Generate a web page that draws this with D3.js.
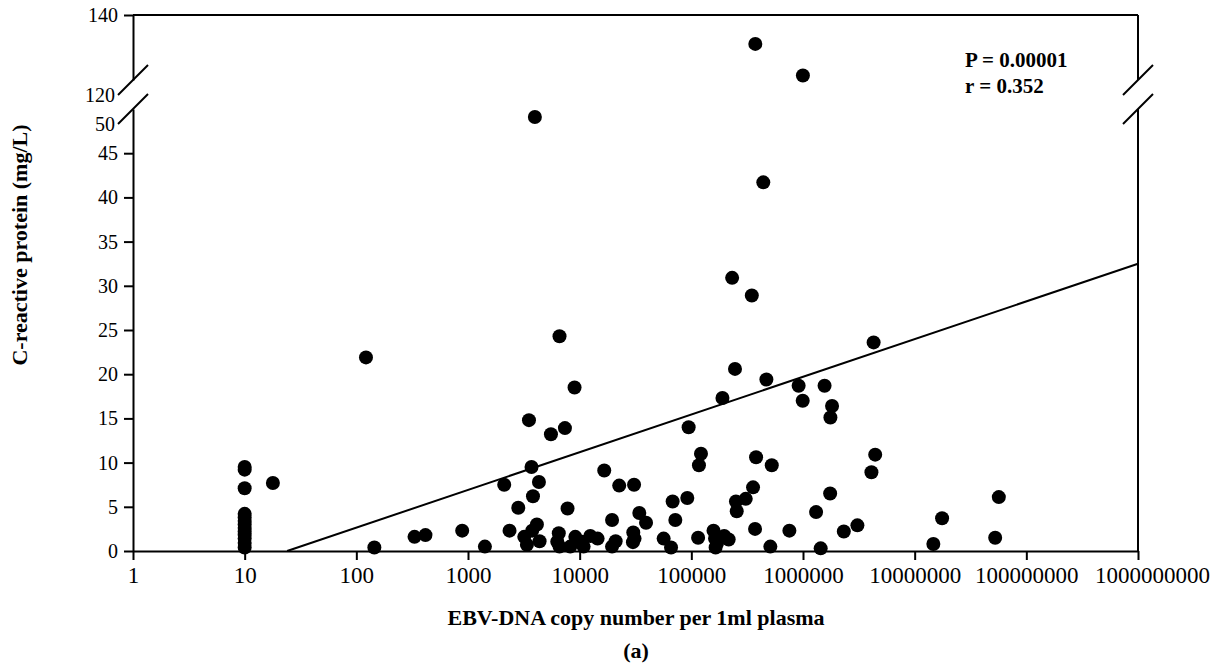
<!DOCTYPE html>
<html>
<head>
<meta charset="utf-8">
<script src="https://cdn.jsdelivr.net/npm/d3@7"></script>
<style>
  body { margin: 0; background: #fff; }
  svg { display: block; font-family: "Liberation Serif", "Times New Roman", serif; }
</style>
</head>
<body>
<svg id="chart" width="1214" height="664"></svg>
<script>
// EBV-DNA copies per 1 ml plasma (x) and CRP in mg/L (y)
const copyNumber = [
  10, 10, 10, 10, 10, 10, 10, 10, 10, 10, 10, 10, 10,
  17.9, 122, 145, 332, 416, 887, 1417,
  2110, 2355, 2820, 3515, 3706, 4318, 3818, 4140, 3757, 3190, 3370, 4375, 3970,
  5530, 7380, 7790, 6600, 9000, 6500, 6300, 6600,
  9140, 8240, 10500, 10840, 12450, 14470,
  16600, 19500, 19500, 21000, 22600, 30700, 34200, 39300, 30200, 31000, 30000,
  56500, 65800, 68000, 71900, 92000, 94600,
  115000, 117000, 122000, 158000, 163000, 170000, 165000, 197000, 216000,
  190000, 232000, 246000, 251000, 255000, 307000, 348000, 357000, 372000, 380000,
  374000, 441000, 470000, 510000, 525000, 755000, 914000, 994000, 998000,
  1310000, 1440000, 1560000, 1750000, 1760000, 1820000, 2320000, 3070000,
  4100000, 4290000, 4430000,
  14700000, 17600000, 52600000, 56700000
];
const crp = [
  9.5, 9.2, 7.1, 4.2, 3.8, 3.4, 3.0, 2.6, 2.2, 1.8, 1.4, 0.9, 0.4,
  7.7, 21.9, 0.4, 1.6, 1.8, 2.3, 0.5,
  7.5, 2.3, 4.9, 14.8, 9.5, 7.8, 6.2, 3.0, 2.3, 1.6, 0.7, 1.1, 49.1,
  13.2, 13.9, 4.8, 24.3, 18.5, 2.0, 1.05, 0.5,
  1.6, 0.5, 1.05, 0.5, 1.7, 1.4,
  9.1, 3.5, 0.5, 1.1, 7.4, 7.5, 4.3, 3.2, 2.1, 1.4, 1.0,
  1.4, 0.4, 5.6, 3.5, 6.0, 14.0,
  1.5, 9.7, 11.0, 2.3, 1.4, 0.9, 0.4, 1.7, 1.3,
  17.3, 30.9, 20.6, 5.6, 4.5, 5.9, 28.9, 7.2, 2.5, 10.6,
  131.1, 41.7, 19.4, 0.5, 9.7, 2.3, 18.7, 17.0, 121.4,
  4.4, 0.3, 18.7, 6.5, 15.1, 16.4, 2.2, 2.9,
  8.9, 23.6, 10.9,
  0.8, 3.7, 1.5, 6.1
];

// regression line end points
const fitX = [24, 1e9];
const fitY = [0, 32.5];

const xTicks = [1, 10, 100, 1000, 10000, 100000, 1000000, 10000000, 100000000, 1000000000];
const lowTicks = [0, 5, 10, 15, 20, 25, 30, 35, 40, 45];
const lowDomain = [0, 50];
const highDomain = [120, 140];

const svg = d3.select("#chart");

const margin = { top: 15, left: 133, right: 76, bottom: 113 };
const width = 1214 - margin.left - margin.right;
const bottomY = 664 - margin.bottom;

const x = d3.scaleLog().domain([1, 1e9]).range([margin.left, margin.left + width]);
const yLow = d3.scaleLinear().domain(lowDomain).range([bottomY, 109]);
const yHigh = d3.scaleLinear().domain(highDomain).range([80, margin.top]);
const yOf = (v) => (v >= highDomain[0] ? yHigh(v) : yLow(v));

const styleAxis = (size) => (g) => {
  g.select(".domain").attr("stroke", "#000").attr("stroke-width", 2);
  g.selectAll(".tick line").attr("stroke", "#000").attr("stroke-width", 2);
  g.selectAll(".tick text")
    .attr("fill", "#000")
    .style("font-family", "Liberation Serif, serif")
    .style("font-size", size + "px");
};

// x axis
const xAxis = svg.append("g")
  .attr("transform", `translate(0,${bottomY})`)
  .call(d3.axisBottom(x).tickValues(xTicks).tickFormat(d3.format("d")).tickSize(9).tickPadding(7).tickSizeOuter(0))
  .call(styleAxis(23));
// last label is pushed right so it does not run into its neighbour
xAxis.selectAll(".tick text").filter((d) => d === 1e9).attr("dx", 14);

// lower y axis
svg.append("g")
  .attr("transform", `translate(${margin.left},0)`)
  .call(d3.axisLeft(yLow).tickValues(lowTicks).tickSize(9).tickPadding(6).tickSizeOuter(0))
  .call(styleAxis(20));

// upper y axis
svg.append("g")
  .attr("transform", `translate(${margin.left},0)`)
  .call(d3.axisLeft(yHigh).tickValues([140]).tickSize(9).tickPadding(6).tickSizeOuter(0))
  .call(styleAxis(20));

// break labels sit at the lower end of the slash
[[lowDomain[1], yLow(lowDomain[1])], [highDomain[0], yHigh(highDomain[0])]].forEach(([v, yy]) => {
  svg.append("text")
    .attr("x", margin.left - 18)
    .attr("y", yy + 16)
    .attr("dy", "0.32em")
    .attr("text-anchor", "end")
    .style("font-size", "20px")
    .text(v);
});

// frame: top and right
const xr = x(1e9);
svg.append("line")
  .attr("x1", margin.left).attr("x2", xr)
  .attr("y1", yHigh(140)).attr("y2", yHigh(140))
  .attr("stroke", "#000").attr("stroke-width", 2);
svg.append("line")
  .attr("x1", xr).attr("x2", xr)
  .attr("y1", yHigh(140)).attr("y2", yHigh(120))
  .attr("stroke", "#000").attr("stroke-width", 2);
svg.append("line")
  .attr("x1", xr).attr("x2", xr)
  .attr("y1", yLow(50)).attr("y2", yLow(0))
  .attr("stroke", "#000").attr("stroke-width", 2);

// break slashes on both sides
[margin.left, xr].forEach((ax) => {
  [yHigh(120), yLow(50)].forEach((by) => {
    svg.append("line")
      .attr("x1", ax - 15).attr("y1", by + 15)
      .attr("x2", ax + 15).attr("y2", by - 15)
      .attr("stroke", "#000").attr("stroke-width", 2);
  });
});

// regression line
svg.append("line")
  .attr("x1", x(fitX[0])).attr("y1", yLow(fitY[0]))
  .attr("x2", x(fitX[1])).attr("y2", yLow(fitY[1]))
  .attr("stroke", "#000").attr("stroke-width", 2);

// points
svg.append("g")
  .selectAll("circle")
  .data(copyNumber.map((c, i) => ({ c, v: crp[i] })))
  .enter()
  .append("circle")
  .attr("cx", (d) => x(d.c))
  .attr("cy", (d) => yOf(d.v))
  .attr("r", 7)
  .attr("fill", "#000");

// stats
const stats = svg.append("text")
  .attr("x", 965)
  .attr("y", 67)
  .style("font-size", "21px")
  .style("font-weight", "bold");
stats.append("tspan").attr("x", 965).text("P = 0.00001");
stats.append("tspan").attr("x", 965).attr("dy", 26).text("r = 0.352");

// axis titles
svg.append("text")
  .attr("transform", `translate(27,245) rotate(-90)`)
  .attr("text-anchor", "middle")
  .style("font-size", "22px")
  .style("font-weight", "bold")
  .text("C-reactive protein (mg/L)");

svg.append("text")
  .attr("x", 636)
  .attr("y", 625)
  .attr("text-anchor", "middle")
  .style("font-size", "22px")
  .style("font-weight", "bold")
  .text("EBV-DNA copy number per 1ml plasma");

svg.append("text")
  .attr("x", 636)
  .attr("y", 658)
  .attr("text-anchor", "middle")
  .style("font-size", "22px")
  .style("font-weight", "bold")
  .text("(a)");
</script>
</body>
</html>
